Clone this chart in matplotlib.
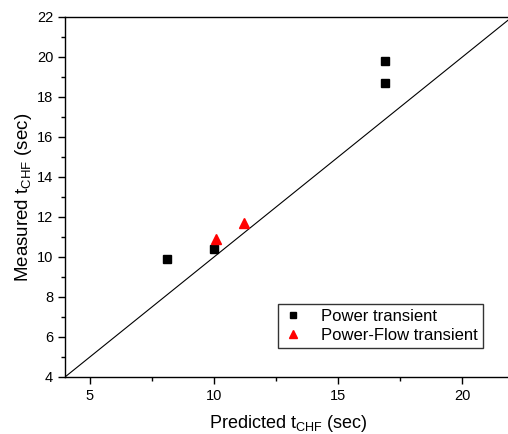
import matplotlib
matplotlib.use("Agg")
import matplotlib.pyplot as plt
from matplotlib.ticker import MultipleLocator

plt.rcParams['font.family'] = ['Liberation Sans', 'DejaVu Sans']
plt.rcParams['mathtext.fontset'] = 'custom'
plt.rcParams['mathtext.rm'] = 'Liberation Sans'
plt.rcParams['mathtext.it'] = 'Liberation Sans:italic'

power_x = [8.1, 10.0, 16.9, 16.9]
power_y = [9.9, 10.4, 19.8, 18.7]
flow_x = [10.1, 11.2]
flow_y = [10.9, 11.7]
diag = [4, 22]

fig = plt.figure(figsize=(5.08, 4.34), dpi=100)
ax = fig.add_axes([65/508, 1-377/434, 447/508, 360/434])

ax.plot(diag, diag, color='black', lw=0.8, zorder=1)
ax.plot(power_x, power_y, 's', color='black', markersize=6.2, linestyle='none',
        label='Power transient', zorder=3)
ax.plot(flow_x, flow_y, '^', color='red', markersize=7.5, linestyle='none',
        label='Power-Flow transient', zorder=3)

ax.set_xlim(4, 22)
ax.set_ylim(4, 22)
ax.xaxis.set_major_locator(MultipleLocator(5))
ax.xaxis.set_minor_locator(MultipleLocator(2.5))
ax.yaxis.set_major_locator(MultipleLocator(2))
ax.yaxis.set_minor_locator(MultipleLocator(1))
ax.tick_params(which='major', direction='out', length=5, width=1, labelsize=10.5)
ax.tick_params(which='minor', direction='out', length=3, width=1)
for s in ax.spines.values():
    s.set_linewidth(1)

ax.set_xlabel(r'Predicted t$_{\mathrm{CHF}}$ (sec)', fontsize=13, labelpad=7)
ax.set_ylabel(r'Measured t$_{\mathrm{CHF}}$ (sec)', fontsize=13.5, labelpad=2)

leg = ax.legend(loc='lower right', bbox_to_anchor=(0.935, 0.08), borderaxespad=0,
                fontsize=12, frameon=True, fancybox=False, handlelength=1.2,
                handletextpad=1.1, borderpad=0.3, labelspacing=0.25,
                markerscale=0.8)
leg.get_frame().set_edgecolor('black')
leg.get_frame().set_linewidth(1)

fig.savefig('out.png', dpi=100)
